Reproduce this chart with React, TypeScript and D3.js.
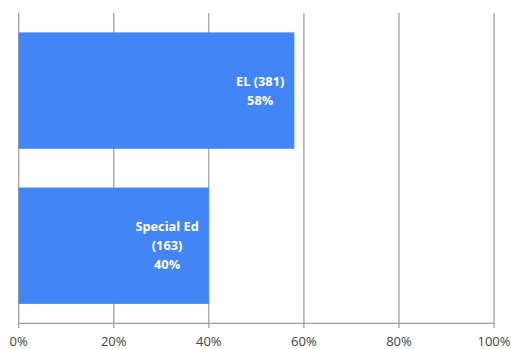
import React, { useEffect, useRef } from "react";
import * as d3 from "d3";

const categories = ["EL", "Special Ed"];
const counts = [381, 163];
const shares = [0.58, 0.4];
const tickValues = [0, 0.2, 0.4, 0.6, 0.8, 1.0];

const W = 511;
const H = 349;

export default function App() {
  const ref = useRef<SVGSVGElement>(null);

  useEffect(() => {
    const svg = d3.select(ref.current);
    svg.selectAll("*").remove();

    const x = d3.scaleLinear().domain([0, 1]).range([18.7, 494]);
    const y = d3
      .scaleBand<string>()
      .domain(categories)
      .range([13, 323.3])
      .paddingInner(0.25)
      .paddingOuter(0.125);

    const grid = "#a0a0a0";

    svg
      .append("g")
      .selectAll("line")
      .data(tickValues)
      .join("line")
      .attr("x1", (d) => x(d))
      .attr("x2", (d) => x(d))
      .attr("y1", 13)
      .attr("y2", 328)
      .attr("stroke", grid)
      .attr("stroke-width", 1.3);

    svg
      .append("line")
      .attr("x1", x(0))
      .attr("x2", x(1))
      .attr("y1", 323.3)
      .attr("y2", 323.3)
      .attr("stroke", grid)
      .attr("stroke-width", 1.3);

    svg
      .append("g")
      .selectAll("text")
      .data(tickValues)
      .join("text")
      .attr("x", (d) => x(d))
      .attr("y", 346)
      .attr("text-anchor", "middle")
      .attr("font-family", "'Open Sans', sans-serif")
      .attr("font-size", 13)
      .attr("fill", "#404040")
      .text((d) => d3.format(".0%")(d));

    const data = categories.map((c, i) => ({ c, n: counts[i], v: shares[i] }));

    svg
      .append("g")
      .selectAll("rect")
      .data(data)
      .join("rect")
      .attr("x", x(0))
      .attr("y", (d) => y(d.c)!)
      .attr("width", (d) => x(d.v) - x(0))
      .attr("height", y.bandwidth())
      .attr("fill", "#4285f4");

    data.forEach((d) => {
      const lines =
        d.c === "Special Ed"
          ? ["Special Ed", `(${d.n})`, d3.format(".0%")(d.v)]
          : [`${d.c} (${d.n})`, d3.format(".0%")(d.v)];
      const lh = 19;
      const cy = y(d.c)! + y.bandwidth() / 2;
      const t = svg
        .append("text")
        .attr("font-family", "'Open Sans', sans-serif")
        .attr("font-weight", "bold")
        .attr("font-size", 12.8)
        .attr("fill", "#ffffff")
        .attr("text-anchor", "middle");
      const spans = lines.map((l, i) =>
        t
          .append("tspan")
          .attr("y", cy + (i - (lines.length - 1) / 2) * lh + 4.5)
          .text(l)
      );
      let maxW = 0;
      spans.forEach((s) => {
        const w = (s.node() as SVGTSpanElement).getComputedTextLength();
        if (w > maxW) maxW = w;
      });
      const cx = x(d.v) - 10 - maxW / 2;
      spans.forEach((s) => s.attr("x", cx));
    });
  }, []);

  return (
    <svg
      ref={ref}
      width={W}
      height={H}
      style={{ position: "absolute", left: 0, top: 0, background: "#fff" }}
    />
  );
}
